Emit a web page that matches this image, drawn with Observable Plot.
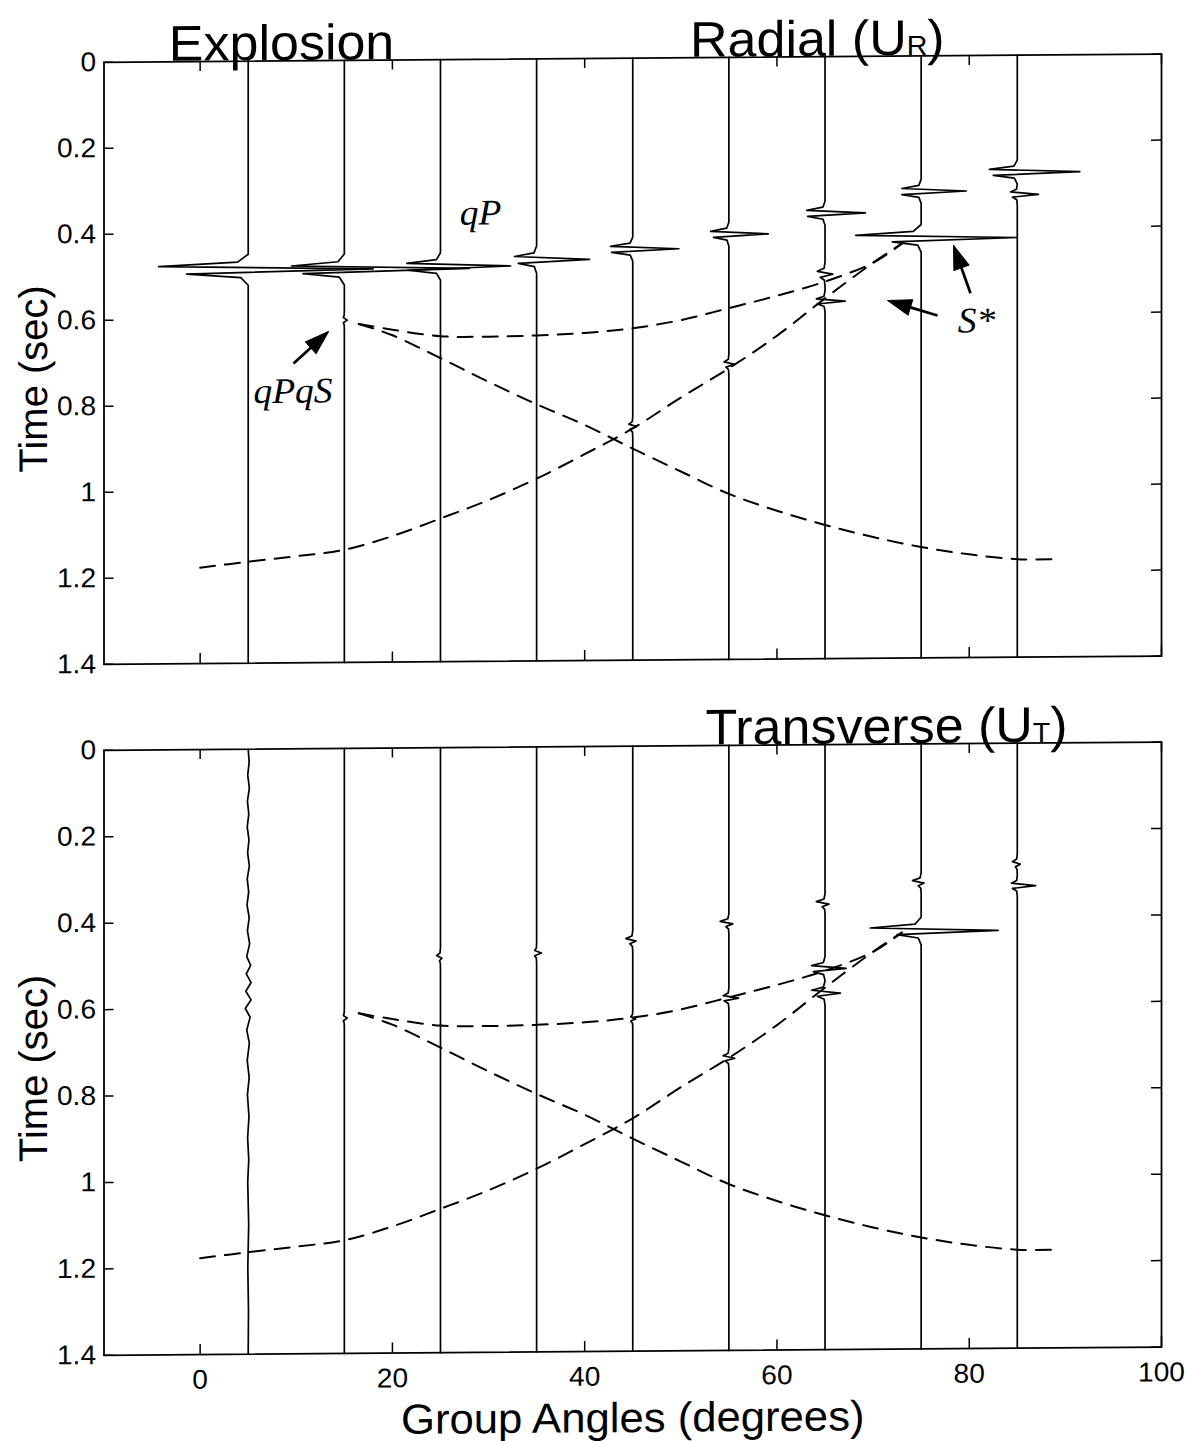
<!DOCTYPE html>
<html><head><meta charset="utf-8">
<script src="https://cdn.jsdelivr.net/npm/d3@7"></script>
<script src="https://cdn.jsdelivr.net/npm/@observablehq/plot@0.6"></script>
<style>
body{margin:0;background:#fff;overflow:hidden;}
#page{width:1188px;height:1441px;position:relative;transform:skewY(-0.45deg);transform-origin:594px 720px;}
#page svg{display:block;}
</style></head><body><div id="page"></div>
<script>
// ---------- data ----------
const traceAngles = [5, 15, 25, 35, 45, 55, 65, 75, 85];
const xTicks = [0, 20, 40, 60, 80, 100];
const xTickLabels = ["0", "20", "40", "60", "80", "100"];
const yTicks = [0, 0.2, 0.4, 0.6, 0.8, 1, 1.2, 1.4];
const yTickLabels = ["0", "0.2", "0.4", "0.6", "0.8", "1", "1.2", "1.4"];

// wavelet events: [trace angle, arrival time, first left lobe, right lobe, second left lobe, half-width]
const radialEvents = [
  [5, 0.485, -9.3, 13, -6.4, 0.009],
  [15, 0.486, -5.5, 13, -4.3, 0.009],
  [15, 0.604, -0.1, 0.3, -0.1, 0.006],
  [25, 0.481, -3.5, 7.3, -3.4, 0.008],
  [35, 0.467, -2.3, 5.5, -1.9, 0.008],
  [45, 0.444, -2.3, 4.8, -2.2, 0.007],
  [45, 0.857, -0.4, 0.4, -0.3, 0.006],
  [55, 0.411, -1.9, 4.1, -1.6, 0.007],
  [55, 0.714, -0.5, 0.6, -0.3, 0.006],
  [65, 0.364, -1.9, 4.2, -1.8, 0.007],
  [65, 0.506, -0.8, 0.8, -0.5, 0.007],
  [65, 0.569, -0.9, 2.1, -0.8, 0.006],
  [75, 0.315, -2.0, 4.7, -2.0, 0.007],
  [75, 0.424, -6.8, 10, -3.0, 0.008],
  [85, 0.272, -2.9, 6.5, -2.5, 0.007],
  [85, 0.324, -0.7, 2.2, -0.5, 0.006]
];
const transverseEvents = [
  [15, 0.624, -0.1, 0.3, -0.1, 0.006],
  [25, 0.487, -0.4, 0.15, -0.1, 0.006],
  [35, 0.477, -0.2, 0.5, -0.2, 0.006],
  [45, 0.451, -0.7, 0.35, -0.3, 0.006],
  [45, 0.631, -0.2, 0.3, -0.2, 0.005],
  [55, 0.413, -0.9, 0.4, -0.3, 0.006],
  [55, 0.585, -0.6, 1.0, -0.5, 0.006],
  [55, 0.724, -0.6, 0.6, -0.4, 0.006],
  [65, 0.369, -0.9, 0.4, -0.3, 0.006],
  [65, 0.518, -1.4, 2.2, -1.2, 0.007],
  [65, 0.575, -1.4, 1.6, -0.8, 0.007],
  [75, 0.322, -0.9, 0.3, -0.3, 0.006],
  [75, 0.433, -5.3, 8.0, -2.5, 0.008],
  [85, 0.28, -0.5, 0.3, -0.2, 0.006],
  [85, 0.33, -0.6, 1.9, -0.5, 0.006]
];
// transverse trace at 5 degrees: [time, offset]
const transverseTrace5 = [
  [0, 0], [0.03, 0.1], [0.06, -0.05], [0.09, 0.12], [0.12, -0.08], [0.15, 0.06], [0.18, -0.1],
  [0.21, 0.08], [0.24, -0.06], [0.27, 0.12], [0.3, -0.1], [0.33, 0.05], [0.36, -0.12], [0.39, 0.1],
  [0.42, -0.08], [0.45, 0.15], [0.48, -0.15], [0.5, 0.25], [0.52, -0.2], [0.54, 0.3], [0.56, -0.25],
  [0.58, 0.3], [0.6, -0.3], [0.62, 0.2], [0.65, -0.15], [0.68, 0.12], [0.72, -0.1], [0.76, 0.1],
  [0.8, -0.08], [0.85, 0.08], [0.9, -0.06], [0.95, 0.06], [1.0, -0.05], [1.1, 0.05], [1.2, -0.04],
  [1.3, 0.03], [1.4, 0]
];

// travel-time curves: [angle, time]
const curveA = [[16.5, 0.613], [20, 0.627], [25, 0.643], [30, 0.645], [35, 0.643], [40, 0.638], [45, 0.628],
  [50, 0.61], [55, 0.583], [60, 0.555], [65, 0.523], [70, 0.48], [73, 0.436]];
const curveB = [[0, 1.177], [5, 1.164], [10, 1.152], [15, 1.138], [20, 1.107], [25, 1.067], [30, 1.025],
  [35, 0.976], [40, 0.92], [45, 0.861], [50, 0.79], [55, 0.723], [60, 0.648], [65, 0.562], [70, 0.48], [73, 0.436]];
const curveC = [[16.5, 0.613], [20, 0.64], [25, 0.694], [30, 0.75], [35, 0.803], [40, 0.852], [45, 0.908],
  [50, 0.962], [55, 1.015], [60, 1.055], [65, 1.089], [70, 1.118], [75, 1.142], [80, 1.16], [85, 1.172], [89, 1.173]];

const radialTitles = [{main: "Explosion", sub: "", tail: "", x: 8.47}, {main: "Radial (U", sub: "R", tail: ")", x: 64.2}];
const transverseTitles = [{main: "Transverse (U", sub: "T", tail: ")", x: 71.4}];

const labels = [
  {text: "qP", x: 27.0, y: 0.384},
  {text: "qPqS", x: 5.55, y: 0.795},
  {text: "S*", x: 78.8, y: 0.644}
];
const arrows = [
  {x1: 9.71, y1: 0.704, x2: 13.36, y2: 0.63},
  {x1: 80.13, y1: 0.553, x2: 78.36, y2: 0.441},
  {x1: 76.7, y1: 0.604, x2: 71.5, y2: 0.568}
];

// ---------- build ----------
const W = 1188, ML = 103.5, MR = 27;
const STRETCH = 1.04;
const allTitles = radialTitles.concat(transverseTitles);

function buildTraces(events, noiseTraces) {
  const pts = [];
  for (const a of traceAngles) {
    let seq;
    if (noiseTraces[a]) seq = noiseTraces[a];
    else {
      seq = [[0, 0]];
      events.filter(e => e[0] === a).sort((p, q) => p[1] - q[1]).forEach(([ang, t0, l1, r, l2, w]) => {
        seq.push([t0 - 4 * w, 0], [t0 - 2 * w, 0.12 * l1], [t0 - w, l1], [t0, r], [t0 + w, l2], [t0 + 2 * w, 0.12 * l2], [t0 + 4 * w, 0]);
      });
      seq.push([1.4, 0]);
    }
    for (const [t, off] of seq) pts.push({angle: a, t, x: a + off});
  }
  return pts;
}

function curvePoints() {
  const out = [];
  [["A", curveA], ["B", curveB], ["C", curveC]].forEach(([id, c]) => c.forEach(([a, t]) => out.push({id, a, t})));
  return out;
}

function arrowParts(list, kx, ky) {
  const heads = [], shafts = [];
  list.forEach((d, i) => {
    const dxp = (d.x2 - d.x1) * kx, dyp = (d.y2 - d.y1) * ky;
    const len = Math.hypot(dxp, dyp), ux = dxp / len, uy = dyp / len;
    const L = 24, Hw = 8;
    const bx = d.x2 - L * ux / kx, by = d.y2 - L * uy / ky;
    heads.push({id: i, x: d.x2, y: d.y2},
      {id: i, x: bx - Hw * uy / kx, y: by + Hw * ux / ky},
      {id: i, x: bx + Hw * uy / kx, y: by - Hw * ux / ky});
    shafts.push({x1: d.x1, y1: d.y1, x2: bx, y2: by});
  });
  return {heads, shafts};
}

function panel({events, noise, titles, height, marginTop, marginBottom, annotate, xLabels, ylDy}) {
  const plotW = W - ML - MR, plotH = height - marginTop - marginBottom;
  const kx = plotW / 110, ky = plotH / 1.4;
  const marks = [
    Plot.line(curvePoints(), {x: "a", y: "t", z: "id", curve: "catmull-rom", stroke: "black", strokeWidth: 2, strokeDasharray: "15,10"}),
    Plot.line(buildTraces(events, noise), {x: "x", y: "t", z: "angle", stroke: "black", strokeWidth: 1.7, strokeLinejoin: "round"}),
    Plot.frame({stroke: "black", strokeWidth: 1.8}),
    Plot.tickX(xTicks, {x: d => d, insetBottom: plotH - 10, strokeWidth: 1.5}),
    Plot.tickX(xTicks, {x: d => d, insetTop: plotH - 10, strokeWidth: 1.5}),
    Plot.tickY(yTicks, {y: d => d, insetRight: plotW - 10, strokeWidth: 1.5}),
    Plot.tickY(yTicks, {y: d => d, insetLeft: plotW - 10, strokeWidth: 1.5}),
    Plot.text(yTicks, {y: d => d, frameAnchor: "left", dx: -8, textAnchor: "end", text: (d, i) => yTickLabels[i], fontSize: 27}),
    Plot.text(["Time (sec)"], {text: d => d, frameAnchor: "left", textAnchor: "middle", dx: -70, dy: ylDy, rotate: -90, fontSize: 40}),
    Plot.text(titles, {x: "x", frameAnchor: "top", textAnchor: "middle", text: d => d.main + d.sub + d.tail, lineAnchor: "bottom", dy: -1, fontSize: 50})
  ];
  if (xLabels) {
    marks.push(Plot.text(xTicks, {x: d => d, frameAnchor: "bottom", textAnchor: "middle", dy: 15, lineAnchor: "top", text: (d, i) => xTickLabels[i], fontSize: 27}));
    marks.push(Plot.text(["Group Angles (degrees)"], {text: d => d, frameAnchor: "bottom", textAnchor: "middle", dy: 51, lineAnchor: "top", fontSize: 42}));
  }
  if (annotate) {
    const {heads, shafts} = arrowParts(arrows, kx, ky);
    marks.push(Plot.link(shafts, {x1: "x1", y1: "y1", x2: "x2", y2: "y2", stroke: "black", strokeWidth: 2.8}));
    marks.push(Plot.line(heads, {x: "x", y: "y", z: "id", fill: "black", stroke: "black", strokeWidth: 1, curve: "linear-closed"}));
    marks.push(Plot.text(labels, {x: "x", y: "y", text: "text", textAnchor: "start", lineAnchor: "bottom", fontFamily: "'Liberation Serif', serif", fontStyle: "italic", fontSize: 36}));
  }
  return Plot.plot({
    width: W, height, marginLeft: ML, marginRight: MR, marginTop, marginBottom,
    x: {domain: [-10, 100], axis: null},
    y: {domain: [0, 1.4], reverse: true, axis: null},
    style: {fontFamily: "'Liberation Sans', Arial, sans-serif", background: "white", overflow: "visible", color: "black"},
    marks
  });
}

function postProcess(svg) {
  svg.querySelectorAll("text").forEach(t => {
    const tr = t.getAttribute("transform") || "";
    if (!tr.includes("rotate")) t.setAttribute("transform", tr + ` scale(${STRETCH},1)`);
    const full = t.textContent;
    const ti = allTitles.find(d => d.sub && d.main + d.sub + d.tail === full);
    if (ti) {
      t.textContent = "";
      const ns = "http://www.w3.org/2000/svg";
      const a = document.createElementNS(ns, "tspan"); a.textContent = ti.main;
      const b = document.createElementNS(ns, "tspan"); b.textContent = ti.sub; b.setAttribute("font-size", "0.55em");
      const c = document.createElementNS(ns, "tspan"); c.textContent = ti.tail;
      t.append(a, b, c);
    }
  });
}

const pageEl = document.getElementById("page");
const topChart = panel({events: radialEvents, noise: {}, titles: radialTitles, height: 700, marginTop: 58, marginBottom: 40, annotate: true, xLabels: false, ylDy: 15});
const bottomChart = panel({events: transverseEvents, noise: {5: transverseTrace5}, titles: transverseTitles, height: 741, marginTop: 46, marginBottom: 90, annotate: false, xLabels: true, ylDy: 15});
postProcess(topChart); postProcess(bottomChart);
pageEl.append(topChart, bottomChart);
</script></body></html>
